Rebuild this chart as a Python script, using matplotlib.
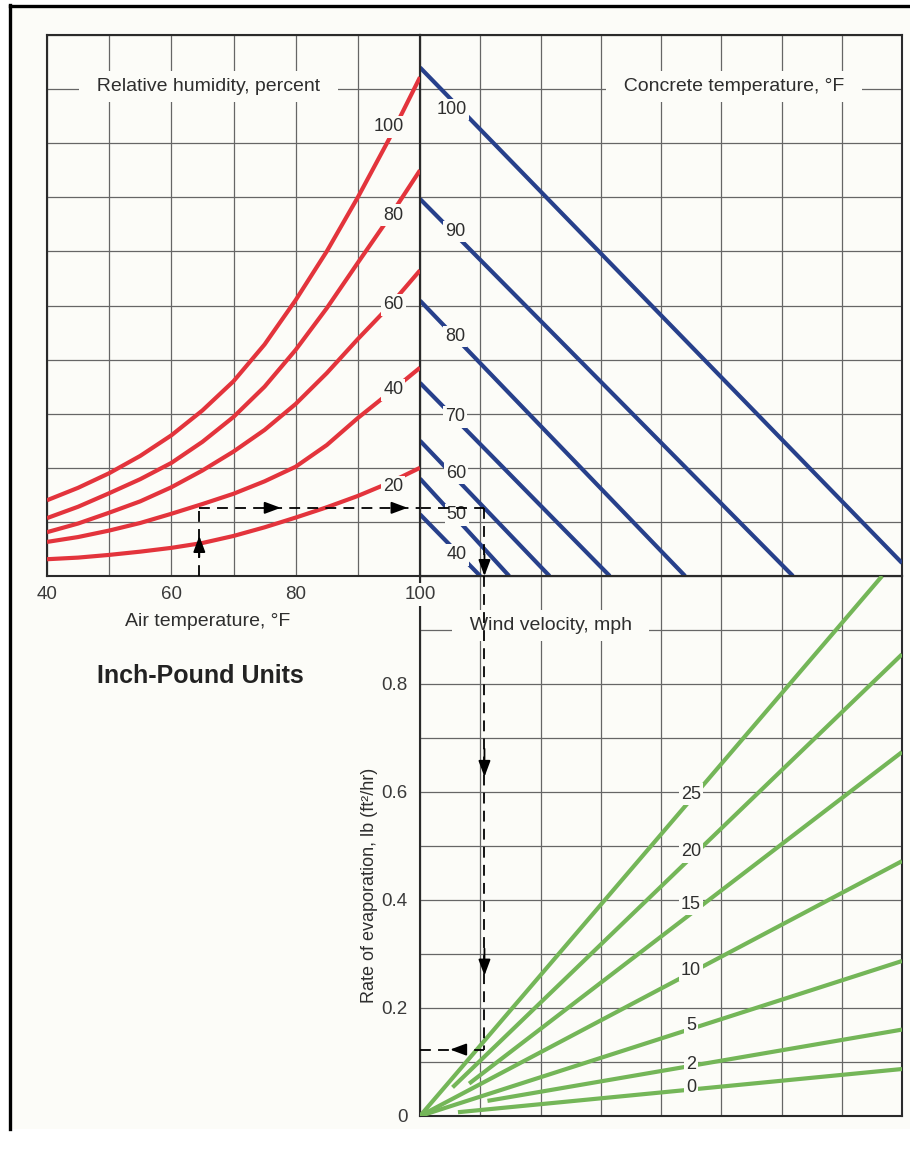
import matplotlib
matplotlib.use('Agg')
import matplotlib.pyplot as plt
from matplotlib.patches import Rectangle
from matplotlib.lines import Line2D

air_temp = [40, 45, 50, 55, 60, 65, 70, 75, 80, 85, 90, 95, 100]
# vapour-pressure scale (0-10 grid rows) for each relative humidity curve
rh100 = [1.40, 1.63, 1.90, 2.22, 2.60, 3.06, 3.60, 4.28, 5.10, 6.00, 7.00, 8.07, 9.22]
rh80 = [1.07, 1.28, 1.53, 1.79, 2.09, 2.48, 2.94, 3.50, 4.18, 4.95, 5.79, 6.62, 7.50]
rh60 = [0.81, 0.97, 1.17, 1.38, 1.64, 1.95, 2.30, 2.70, 3.18, 3.75, 4.38, 4.98, 5.65]
rh40 = [0.63, 0.72, 0.84, 0.98, 1.15, 1.33, 1.52, 1.75, 2.02, 2.42, 2.92, 3.38, 3.85]
rh20 = [0.31, 0.34, 0.39, 0.45, 0.52, 0.61, 0.74, 0.90, 1.08, 1.27, 1.48, 1.72, 2.00]
rh_levels = [100, 80, 60, 40, 20]
rh_label_t = [94.9, 95.7, 95.7, 95.7, 95.7]
rh_label_u = [8.30, 6.67, 5.01, 3.44, 1.65]

concrete_temp = [100, 90, 80, 70, 60, 50, 40]
ct_start_u = [9.40, 6.97, 5.09, 3.57, 2.50, 1.80, 1.14]
ct_end_col = [8.0, 6.19, 4.40, 3.15, 2.15, 1.48, 1.00]
ct_end_u = [0.24, 0, 0, 0, 0, 0, 0]
ct_label_col = [0.52, 0.58, 0.58, 0.58, 0.60, 0.61, 0.61]
ct_label_u = [8.62, 6.37, 4.43, 2.94, 1.90, 1.13, 0.39]

wind = [25, 20, 15, 10, 5, 2, 0]
wind_start_col = [0, 0.54, 0.815, 0, 0, 1.12, 0.63]
wind_start_rate = [0, 0.053, 0.06, 0, 0, 0.028, 0.007]
wind_end_col = [7.67, 8, 8, 8, 8, 8, 8]
wind_end_rate = [1.0, 0.855, 0.674, 0.472, 0.287, 0.160, 0.087]
wind_label_col = [4.5, 4.5, 4.5, 4.5, 4.5, 4.5, 4.5]
wind_label_rate = [0.596, 0.489, 0.392, 0.270, 0.167, 0.096, 0.052]

temp_ticks = [40, 60, 80, 100]
rate_ticks = [0, 0.2, 0.4, 0.6, 0.8]
rate_labels = ['0', '0.2', '0.4', '0.6', '0.8']

# worked example (dashed path)
ex_temp = 64.5
ex_u = 1.26
ex_col = 1.07
ex_rate = 0.123

# ---- style ----
W, H = 910, 1154
BG = '#fcfcf8'
RED = '#e3343c'
BLUE = '#27408b'
GREEN = '#74b658'
GRID = '#666666'
TXT = '#2e2e2e'
plt.rcParams['font.family'] = ['Liberation Sans', 'DejaVu Sans']

fig = plt.figure(figsize=(W / 100, H / 100), dpi=100, facecolor='white')


def box(l, t, r, b):
    return [l / W, 1 - b / H, (r - l) / W, (b - t) / H]


# page background + frame
fig.patches.append(Rectangle((10 / W, 1 - 1129 / H), 900 / W, 1123 / H,
                             transform=fig.transFigure, facecolor=BG,
                             edgecolor='none', zorder=-10))
fig.add_artist(Line2D([10 / W, 10 / W], [1 - 1129 / H, 1 - 5 / H],
                      transform=fig.transFigure, color='black', lw=2.4, zorder=10))
fig.add_artist(Line2D([10 / W, 1], [1 - 6 / H, 1 - 6 / H],
                      transform=fig.transFigure, color='black', lw=2.4, zorder=10))

ax_ct = fig.add_axes(box(420, 35, 902, 576))
ax_ev = fig.add_axes(box(420, 576, 902, 1116))
ax_rh = fig.add_axes(box(47, 35, 420, 576))
ax_rh.set_zorder(3)

for ax in (ax_rh, ax_ct, ax_ev):
    ax.set_facecolor('none')
    for sp in ax.spines.values():
        sp.set_color('#2a2a2a')
        sp.set_linewidth(1.5)
    ax.grid(True, which='both', color=GRID, lw=0.9)
    ax.set_axisbelow(True)
    ax.tick_params(which='both', length=0, labelsize=13.5, labelcolor='#3a3a3a')

# top-left: relative humidity
ax_rh.set_xlim(40, 100)
ax_rh.set_ylim(0, 10)
ax_rh.set_xticks(temp_ticks)
ax_rh.set_xticks([50, 70, 90], minor=True)
ax_rh.set_yticks(range(0, 11))
ax_rh.set_yticklabels([])
ax_rh.tick_params(axis='x', pad=7)
for tl in ax_rh.get_xticklabels():
    tl.set_bbox(dict(boxstyle='square,pad=0.15', facecolor=BG, edgecolor='none'))

# top-right: concrete temperature
ax_ct.set_xlim(0, 8)
ax_ct.set_ylim(0, 10)
ax_ct.set_xticks(range(0, 9))
ax_ct.set_yticks(range(0, 11))
ax_ct.set_xticklabels([])
ax_ct.set_yticklabels([])

# bottom-right: wind velocity / evaporation
ax_ev.set_xlim(0, 8)
ax_ev.set_ylim(0, 1.0)
ax_ev.set_xticks(range(0, 9))
ax_ev.set_xticklabels([])
ax_ev.set_yticks(rate_ticks)
ax_ev.set_yticklabels(rate_labels)
ax_ev.set_yticks([0.1, 0.3, 0.5, 0.7, 0.9, 1.0], minor=True)
ax_ev.tick_params(axis='y', pad=9)

lab_box = dict(boxstyle='square,pad=0.12', facecolor=BG, edgecolor='none')
title_box = dict(boxstyle='square,pad=0.35', facecolor=BG, edgecolor='none')

for lvl, vals, lt, lu in zip(rh_levels, [rh100, rh80, rh60, rh40, rh20], rh_label_t, rh_label_u):
    ax_rh.plot(air_temp, vals, color=RED, lw=3.0, solid_capstyle='butt',
               solid_joinstyle='round', zorder=3)
    ax_rh.text(lt, lu, str(lvl), fontsize=13, color=TXT, ha='center', va='center',
               bbox=lab_box, zorder=5)

for t, su, ec, eu, lc, lu in zip(concrete_temp, ct_start_u, ct_end_col, ct_end_u,
                                 ct_label_col, ct_label_u):
    ax_ct.plot([0, ec], [su, eu], color=BLUE, lw=3.0, solid_capstyle='butt', zorder=3)
    ax_ct.text(lc, lu, str(t), fontsize=13, color=TXT, ha='center', va='center',
               bbox=lab_box, zorder=5)

for v, sc, sr, ec, er, lc, lr in zip(wind, wind_start_col, wind_start_rate, wind_end_col,
                                     wind_end_rate, wind_label_col, wind_label_rate):
    ax_ev.plot([sc, ec], [sr, er], color=GREEN, lw=3.0, solid_capstyle='butt', zorder=3)
    ax_ev.text(lc, lr, str(v), fontsize=13, color=TXT, ha='center', va='center',
               bbox=lab_box, zorder=5)

# panel titles sitting on grid lines
ax_rh.text(66.0, 9.05, '  Relative humidity, percent  ', fontsize=14, color=TXT,
           ha='center', va='center', bbox=title_box, zorder=4)
ax_ct.text(5.21, 9.05, '  Concrete temperature, °F  ', fontsize=14, color=TXT,
           ha='center', va='center', bbox=title_box, zorder=4)
ax_ev.text(2.17, 0.908, '  Wind velocity, mph  ', fontsize=14, color=TXT,
           ha='center', va='center', bbox=title_box, zorder=4)

# dashed example path
dash = dict(color='black', lw=1.3, ls=(0, (6, 4)), zorder=6)
ax_rh.plot([ex_temp, ex_temp], [0, ex_u], **dash)
ax_rh.plot([ex_temp, 100], [ex_u, ex_u], **dash)
ax_ct.plot([0, ex_col], [ex_u, ex_u], **dash)
ax_ct.plot([ex_col, ex_col], [ex_u, 0], **dash)
ax_ev.plot([ex_col, ex_col], [1.0, ex_rate], **dash)
ax_ev.plot([0, ex_col], [ex_rate, ex_rate], **dash)


def arrow(ax, x0, y0, x1, y1):
    ax.annotate('', xy=(x1, y1), xytext=(x0, y0), annotation_clip=False, zorder=7,
                arrowprops=dict(arrowstyle='-|>,head_length=0.75,head_width=0.28',
                                color='black', lw=1.3, shrinkA=0, shrinkB=0,
                                mutation_scale=13))


arrow(ax_rh, ex_temp, 0.35, ex_temp, 0.74)
arrow(ax_rh, 75.0, ex_u, 77.6, ex_u)
arrow(ax_rh, 95.5, ex_u, 98.0, ex_u)
arrow(ax_ct, ex_col, 0.4, ex_col, 0.0)
arrow(ax_ev, ex_col, 0.68, ex_col, 0.628)
arrow(ax_ev, ex_col, 0.31, ex_col, 0.26)
arrow(ax_ev, 0.75, ex_rate, 0.50, ex_rate)

# free text
fig.text(208 / W, 1 - 621 / H, 'Air temperature, °F', fontsize=14, color=TXT,
         ha='center', va='center')
fig.text(200 / W, 1 - 676 / H, 'Inch-Pound Units', fontsize=18, fontweight='bold',
         color='#222222', ha='center', va='center')
fig.text(370 / W, 1 - 885 / H, 'Rate of evaporation, lb (ft²/hr)', fontsize=13,
         color=TXT, rotation=90, ha='center', va='center')

fig.savefig('out.png', dpi=100, facecolor='white')
